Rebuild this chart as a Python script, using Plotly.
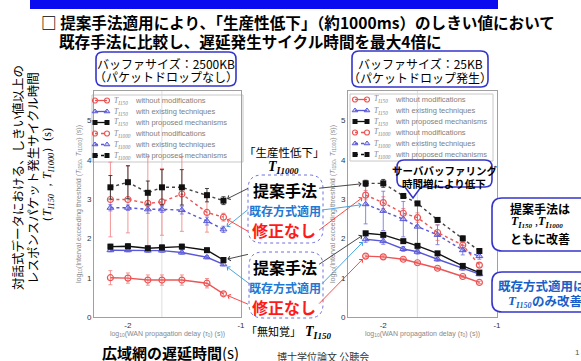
import math
import plotly.graph_objects as go

W, H = 581, 361
JP = "Noto Sans CJK JP"
SERIF = "Liberation Serif"
SANS = "Liberation Sans"

# WAN propagation delay (s); plotted as log10
delay_s = [0.007, 0.01, 0.015, 0.02, 0.03, 0.05, 0.07]
log_delay = [math.log10(d) for d in delay_s]

# Buffer 2500 KB (no packet drop): interval exceeding threshold (s)
t150_none_2500 = [1.00, 0.99, 0.94, 0.94, 0.94, 0.86, 0.59]
t150_none_2500_err = [0.18, 0.13, 0.13, 0.13, 0.13, 0.12, 0.04]
t150_exist_2500 = [1.70, 1.70, 1.69, 1.69, 1.64, 1.52, 1.34]
t150_exist_2500_err = [0.04, 0.04, 0.04, 0.04, 0.04, 0.04, 0.04]
t150_prop_2500 = [1.79, 1.80, 1.75, 1.77, 1.79, 1.70, 1.45]
t150_prop_2500_err = [0.06, 0.06, 0.05, 0.06, 0.06, 0.05, 0.06]
t1000_none_2500 = [2.99, 2.99, 2.89, 2.93, 3.13, 2.66, 2.54]
t1000_none_2500_err = [0.95, 0.85, 1.20, 0.85, 0.95, 0.50, 0.10]
t1000_exist_2500 = [2.78, 2.78, 2.74, 2.74, 2.72, 2.44, 2.23]
t1000_exist_2500_err = [0.08, 0.07, 0.10, 0.08, 0.10, 0.10, 0.08]
t1000_prop_2500 = [3.30, 3.43, 3.16, 3.30, 3.30, 3.10, 2.96]
t1000_prop_2500_err = [0.30, 0.42, 0.30, 0.45, 0.45, 0.17, 0.10]

# Buffer 25 KB (packet drop)
t150_none_25 = [1.55, 1.53, 1.47, 1.38, 1.24, 1.03, 0.88]
t150_none_25_err = [0.03, 0.03, 0.03, 0.03, 0.03, 0.03, 0.03]
t150_exist_25 = [1.98, 1.93, 1.73, 1.66, 1.47, 1.24, 1.09]
t150_exist_25_err = [0.08, 0.08, 0.06, 0.06, 0.05, 0.05, 0.04]
t150_prop_25 = [2.13, 2.09, 1.93, 1.81, 1.62, 1.30, 1.13]
t150_prop_25_err = [0.04, 0.04, 0.04, 0.04, 0.04, 0.04, 0.04]
t1000_none_25 = [3.10, 2.91, 2.64, 2.53, 2.15, 1.83, 1.32]
t1000_none_25_err = [0.12, 0.15, 0.12, 0.12, 0.20, 0.10, 0.05]
t1000_exist_25 = [2.87, 2.70, 2.49, 2.30, 2.09, 1.70, 1.55]
t1000_exist_25_err = [0.50, 0.50, 0.45, 0.60, 0.25, 0.12, 0.08]
t1000_prop_25 = [3.40, 3.40, 3.08, 2.89, 2.47, 2.00, 1.68]
t1000_prop_25_err = [0.08, 0.10, 0.06, 0.05, 0.05, 0.06, 0.05]

legend_labels = ["without modifications", "with existing techniques", "with proposed mechanisms"]

RED = "#ec5555"
RED_ERR = "#f08a8a"
BLUE = "#5858d8"
BLUE_ERR = "#7c7ce0"
BLACK = "#111111"

STYLE = {
    "none": dict(color=RED, err=RED_ERR,
                 marker=dict(symbol="circle-open", size=6, color=RED, line=dict(color=RED, width=1.2))),
    "exist": dict(color=BLUE, err=BLUE_ERR,
                  marker=dict(symbol="triangle-up", size=6, color="rgba(120,120,235,0.35)",
                              line=dict(color=BLUE, width=1))),
    "prop": dict(color=BLACK, err="#333333",
                 marker=dict(symbol="square", size=6, color=BLACK, line=dict(color=BLACK, width=0))),
}


def px(x):
    return x / W


def py(y):
    return 1 - y / H


fig = go.Figure()


def add_series(vals, err, kind, dashed, xa, ya):
    st = STYLE[kind]
    lc = "#444444" if (kind == "prop" and dashed) else st["color"]
    fig.add_trace(go.Scatter(
        x=log_delay, y=vals, mode="lines+markers",
        error_y=dict(type="data", array=err, color=st["err"], thickness=0.9, width=2),
        line=dict(color=lc, width=1.4, dash="3px,3px" if dashed else "solid"),
        marker=st["marker"], xaxis=xa, yaxis=ya, showlegend=False, cliponaxis=False,
    ))


panels = [
    ("x", "y", [
        (t1000_none_2500, t1000_none_2500_err, "none", True),
        (t1000_exist_2500, t1000_exist_2500_err, "exist", True),
        (t1000_prop_2500, t1000_prop_2500_err, "prop", True),
        (t150_none_2500, t150_none_2500_err, "none", False),
        (t150_exist_2500, t150_exist_2500_err, "exist", False),
        (t150_prop_2500, t150_prop_2500_err, "prop", False),
    ]),
    ("x2", "y2", [
        (t1000_none_25, t1000_none_25_err, "none", True),
        (t1000_exist_25, t1000_exist_25_err, "exist", True),
        (t1000_prop_25, t1000_prop_25_err, "prop", True),
        (t150_none_25, t150_none_25_err, "none", False),
        (t150_exist_25, t150_exist_25_err, "exist", False),
        (t150_prop_25, t150_prop_25_err, "prop", False),
    ]),
]
for xa, ya, items in panels:
    for vals, err, kind, dashed in items:
        add_series(vals, err, kind, dashed, xa, ya)

# ---- legends (drawn in a pixel-space overlay axis) ----
legend_rows = [("none", False, "150"), ("exist", False, "150"), ("prop", False, "150"),
               ("none", True, "1000"), ("exist", True, "1000"), ("prop", True, "1000")]
legend_boxes = [(92, 95, 243, 162, 95, 107), (350, 94, 493, 161, 355, 367)]
annotations = []
shapes = []
for (bx0, by0, bx1, by1, gx0, gx1) in legend_boxes:
    shapes.append(dict(type="rect", xref="paper", yref="paper", x0=px(bx0), x1=px(bx1),
                       y0=py(by1), y1=py(by0), line=dict(color="#c8c8c8", width=1),
                       fillcolor="white", layer="below"))
    for i, (kind, dashed, sub) in enumerate(legend_rows):
        ry = by0 + 5.5 + i * 11
        st = STYLE[kind]
        fig.add_trace(go.Scatter(
            x=[gx0, gx1], y=[ry, ry], mode="lines+markers", xaxis="x3", yaxis="y3",
            line=dict(color=st["color"], width=1.3, dash="dot" if dashed else "solid"),
            marker=dict(st["marker"], size=5), showlegend=False, hoverinfo="skip"))
        annotations.append(dict(
            x=px(gx1 + 5), y=py(ry), xref="paper", yref="paper", showarrow=False,
            xanchor="left", yanchor="middle",
            text="<i>T</i><sub><i>I" + sub + "</i></sub>",
            font=dict(size=7.5, color="#888888", family=SERIF)))
        annotations.append(dict(
            x=px(gx1 + 26), y=py(ry), xref="paper", yref="paper", showarrow=False,
            xanchor="left", yanchor="middle", text=legend_labels[["none", "exist", "prop"].index(kind)],
            font=dict(size=7.5, color="#808080", family=SANS)))


def txt(x, y, s, size, color="#000000", family=JP, anchor="center", angle=0):
    annotations.append(dict(x=px(x), y=py(y), xref="paper", yref="paper", text=s,
                            showarrow=False, xanchor=anchor, yanchor="middle",
                            textangle=angle, font=dict(size=size, color=color, family=family)))


def rrect(x0, y0, x1, y1, r, color, width=1.6, dash="solid", fill="white", tail=None):
    pts = [f"M{px(x0 + r)},{py(y0)}", f"L{px(x1 - r)},{py(y0)}",
           f"Q{px(x1)},{py(y0)} {px(x1)},{py(y0 + r)}", f"L{px(x1)},{py(y1 - r)}",
           f"Q{px(x1)},{py(y1)} {px(x1 - r)},{py(y1)}"]
    if tail:
        for tx, ty in tail:
            pts.append(f"L{px(tx)},{py(ty)}")
    pts += [f"L{px(x0 + r)},{py(y1)}", f"Q{px(x0)},{py(y1)} {px(x0)},{py(y1 - r)}",
            f"L{px(x0)},{py(y0 + r)}", f"Q{px(x0)},{py(y0)} {px(x0 + r)},{py(y0)}", "Z"]
    shapes.append(dict(type="path", xref="paper", yref="paper", path=" ".join(pts),
                       line=dict(color=color, width=width, dash=dash),
                       fillcolor=fill, layer="above"))


def t_sym(sub, size):
    small = max(size - 5, 6)
    return (f"<b><i>T<sub>I<span style='font-size:{small}px'>{sub}</span></sub></i></b>")


BOX = "#3535cc"
MIDBLUE = "#1f78d1"
BRED = "#ff1a1a"

# top band and headline
shapes.append(dict(type="rect", xref="paper", yref="paper", x0=px(30), x1=px(498),
                   y0=py(9), y1=py(0), line=dict(width=0), fillcolor="#0b0bf0", layer="above"))
txt(39, 22, "<b>□ 提案手法適用により、「生産性低下」（約1000ms）のしきい値において</b>", 15.6, anchor="left")
txt(57, 41, "<b>既存手法に比較し、遅延発生サイクル時間を最大4倍に</b>", 15.6, anchor="left")

# buffer-size captions
rrect(96, 52, 236, 86, 7, BOX)
txt(166, 63, "バッファサイズ：2500KB", 12)
txt(166, 77, "（パケットドロップなし）", 12)
rrect(352, 51, 488, 87, 7, BOX)
txt(420, 64, "バッファサイズ：25KB", 12)
txt(420, 78, "（パケットドロップ発生）", 12)

# middle labels
txt(284, 152, "「生産性低下」", 11.5)
txt(283, 167, t_sym("1000", 14), 14, family=SERIF)
rrect(248, 175, 323, 243, 14, "#7070e0", width=1, dash="dot", fill="rgba(0,0,0,0)")
rrect(249, 252, 323, 318, 14, "#7070e0", width=1, dash="dot", fill="rgba(0,0,0,0)")
for base in (190, 267):
    txt(285, base, "<b>提案手法</b>", 16)
    txt(285, base + 20, "<b>既存方式適用</b>", 12, color=MIDBLUE)
    txt(284, base + 40, "<b>修正なし</b>", 16, color=BRED)
txt(303, 331, "「無知覚」", 11, anchor="right")
txt(303, 332, t_sym("150", 14), 14, family=SERIF, anchor="left")

# speech bubble in the 25KB panel
rrect(397, 160, 492, 187, 7, BOX, tail=[(421, 187), (413, 198), (405, 187)])
txt(444, 171, "<b>サーババッファリング</b>", 10.5)
txt(444, 183, "<b>時間増により低下</b>", 10.5)

# right-hand remarks
rrect(492, 198, 620, 251, 10, BOX)
txt(540, 208, "<b>提案手法は</b>", 12)
txt(537, 222, t_sym("150", 12) + " ," + t_sym("1000", 12), 12, family=SERIF)
txt(540, 238, "<b>ともに改善</b>", 12)
rrect(492, 272, 620, 312, 10, BOX)
txt(496, 285, "<b>既存方式適用は</b>", 12.5, color="#1a5fc8", anchor="left")
txt(506, 301, t_sym("150", 13), 13, color="#1a5fc8", family=SERIF, anchor="left")
txt(530, 300, "<b>のみ改善</b>", 12.5, color="#1a5fc8", anchor="left")

# outer axis captions and footer
txt(18, 178, "対話式データにおける、しきい値以上の", 12.5, angle=-90)
txt(33, 178, "レスポンスパケット発生サイクル時間", 12.5, angle=-90)
txt(48, 178, "（<i>T</i><sub><i>I150</i></sub> ，<i>T</i><sub><i>I1000</i></sub>）(s)", 12,
    family=SERIF, angle=-90)
txt(170, 352, "<b>広域網の遅延時間</b>(s)", 15)
txt(323, 356, "博士学位論文 公聴会", 10, color="#333333")
txt(577, 352, "1", 8, color="#555555", family=SANS)

# arrows from the middle labels to the curves
arrow_specs = [
    # (axis suffix, values, index, dx, dy, color)
    ("", t1000_prop_2500, -1, 26, -13, "#333333"),
    ("", t1000_exist_2500, -1, 26, -21, "#3a9ad9"),
    ("", t1000_none_2500, -1, 26, 15, "#ff3333"),
    ("", t150_prop_2500, -1, 26, -6, "#333333"),
    ("", t150_exist_2500, -1, 28, 21, "#3a9ad9"),
    ("", t150_none_2500, -1, 26, 11, "#ff3333"),
    ("2", t1000_prop_25, 0, -48, 5, "#333333"),
    ("2", t1000_none_25, 0, -48, 36, "#ff3333"),
    ("2", t1000_exist_25, 0, -45, 6, "#3a9ad9"),
    ("2", t150_prop_25, 0, -48, 32, "#333333"),
    ("2", t150_exist_25, 0, -45, 46, "#3a9ad9"),
    ("2", t150_none_25, 0, -48, 49, "#ff3333"),
]
for suf, vals, idx, dx, dy, col in arrow_specs:
    annotations.append(dict(
        x=log_delay[idx], y=vals[idx], xref="x" + suf, yref="y" + suf,
        ax=dx, ay=dy, axref="pixel", ayref="pixel", text="", showarrow=True,
        arrowhead=4, arrowsize=1, arrowwidth=0.9, arrowcolor=col, standoff=4))

# light vertical guide line in each panel
for suf in ("", "2"):
    shapes.append(dict(type="line", xref="x" + suf, yref=f"y{suf} domain", x0=-1.7, x1=-1.7,
                       y0=0, y1=1, line=dict(color="#dddddd", width=1), layer="below"))

y_top = (317 - 91) / 39.3
axis_font = dict(size=8, color="#333333", family=SANS)
xtitle = "log<sub>10</sub>(WAN propagation delay (<i>τ</i><sub>0</sub>) (s))"
ytitle = ("log<sub>10</sub>(Interval exceeding threshold (<i>T</i><sub>I150</sub>, "
          "<i>T</i><sub>I1000</sub>) (s))")


def xaxis(domain, rng, anchor):
    return dict(domain=domain, range=rng, anchor=anchor, tickvals=[-2, -1], ticktext=["-2", "-1"],
                showgrid=False, zeroline=False, showline=True, mirror=True, linecolor="#a0a0a0",
                linewidth=1, ticks="", tickfont=axis_font, automargin=False,
                title=dict(text=xtitle, font=dict(size=7, color="#888888", family=SANS), standoff=2))


def yaxis(anchor):
    return dict(domain=[py(317), py(91)], range=[0, y_top], anchor=anchor,
                tickvals=[0, 1, 2, 3, 4, 5], showgrid=False, zeroline=False, showline=True,
                mirror=True, linecolor="#a0a0a0", linewidth=1, ticks="", tickfont=axis_font,
                automargin=False,
                title=dict(text=ytitle, font=dict(size=7, color="#888888", family=SANS), standoff=4))


fig.update_layout(
    width=W, height=H, margin=dict(l=0, r=0, t=0, b=0), template="none",
    paper_bgcolor="white", plot_bgcolor="rgba(0,0,0,0)", showlegend=False,
    font=dict(family=JP, color="#000000"),
    xaxis=xaxis([px(94), px(241)], [-2.30, -1.0], "y"),
    yaxis=yaxis("x"),
    xaxis2=xaxis([px(348), px(497)], [-2.31, -1.0], "y2"),
    yaxis2=yaxis("x2"),
    xaxis3=dict(domain=[0, 1], range=[0, W], visible=False, anchor="y3", fixedrange=True),
    yaxis3=dict(domain=[0, 1], range=[H, 0], visible=False, anchor="x3", fixedrange=True),
    annotations=annotations, shapes=shapes,
)

fig.write_html("out.html")
